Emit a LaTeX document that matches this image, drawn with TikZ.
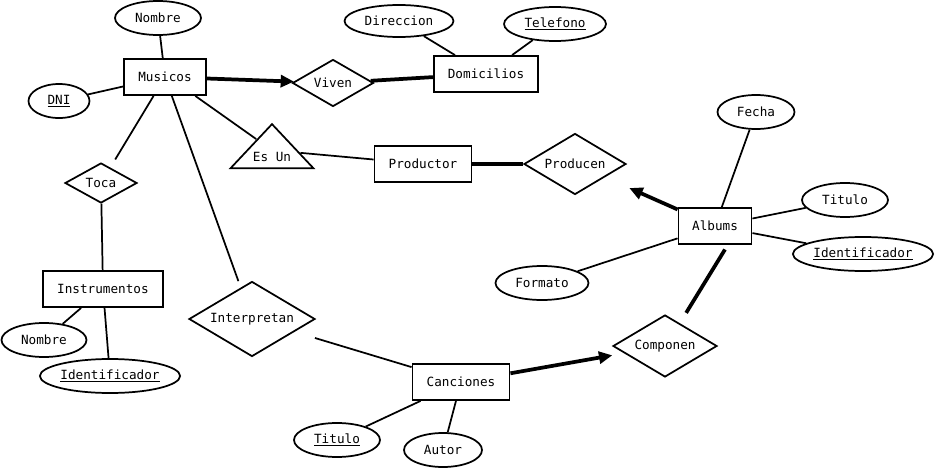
\documentclass[tikz,border=0pt]{standalone}
\usepackage{fontspec}
\setmonofont{DejaVu Sans Mono}
\usetikzlibrary{shapes.geometric,arrows.meta}

\begin{document}
\begin{tikzpicture}[x=0.75pt,y=-0.75pt,
  font=\ttfamily\fontsize{9.5}{11}\selectfont,
  entidad/.style={draw,line width=1.4pt,minimum height=27pt,inner sep=0pt},
  atrib/.style={draw,ellipse,line width=1.3pt,minimum height=25.5pt,inner sep=0pt},
  relac/.style={draw,diamond,aspect=1.7,line width=1.3pt,inner sep=0pt},
  linea/.style={line width=1.3pt},
  gruesa/.style={line width=2.8pt},
  flecha/.style={line width=2.8pt,-{Triangle[length=10pt,width=9pt]}}]
\useasboundingbox (0,0) rectangle (936,471);

% ---- entidades ----
\node[entidad,minimum width=61.5pt] (musicos) at (165,77) {Musicos};
\node[entidad,minimum width=78pt] (domicilios) at (486,74) {Domicilios};
\node[entidad,minimum width=72.75pt] (productor) at (423,164) {Productor};
\node[entidad,minimum width=54.75pt] (albums) at (715,226) {Albums};
\node[entidad,minimum width=90pt] (instrumentos) at (103,289) {Instrumentos};
\node[entidad,minimum width=72.75pt] (canciones) at (461,382) {Canciones};

% ---- relaciones ----
\node[relac,minimum width=54pt,minimum height=30pt] (toca) at (101,183) {Toca};
\node[relac,minimum width=60.75pt,minimum height=35.25pt] (viven) at (333,83) {Viven};
\node[relac,minimum width=76.5pt,minimum height=45.75pt] (producen) at (575,164) {Producen};
\node[relac,minimum width=94.5pt,minimum height=56.25pt] (interpretan) at (252,319) {Interpretan};
\node[relac,minimum width=78pt,minimum height=46.5pt] (componen) at (665,346) {Componen};
\node[draw,isosceles triangle,isosceles triangle stretches,shape border rotate=90,
      minimum width=62pt,minimum height=33pt,inner sep=0pt,line width=1.3pt,
      anchor=lower side] (esun) at (272,169) {};
\node (esuntxt) at (272,157) {Es Un};

% ---- atributos ----
\node[atrib,minimum width=64.5pt] (nombre) at (158,18) {Nombre};
\node[atrib,minimum width=45.75pt] (dni) at (59,101) {\underline{DNI}};
\node[atrib,minimum width=81.75pt,minimum height=24pt] (direccion) at (399,21) {Direccion};
\node[atrib,minimum width=76.5pt] (telefono) at (555,24) {\underline{Telefono}};
\node[atrib,minimum width=57.75pt] (fecha) at (756,112) {Fecha};
\node[atrib,minimum width=64.5pt] (tituloalb) at (845,200) {Titulo};
\node[atrib,minimum width=105pt] (identalb) at (863,254) {\underline{Identificador}};
\node[atrib,minimum width=69.75pt] (formato) at (542,283) {Formato};
\node[atrib,minimum width=63.75pt] (nombreins) at (44,340) {Nombre};
\node[atrib,minimum width=105pt] (identins) at (110,376) {\underline{Identificador}};
\node[atrib,minimum width=64.5pt] (titulocan) at (337,440) {\underline{Titulo}};
\node[atrib,minimum width=58.5pt] (autor) at (443,450) {Autor};

% ---- conexiones ----
\draw[linea] (nombre)--(musicos); \draw[linea] (dni)--(musicos);
\draw[flecha] (musicos)--(viven);
\draw[gruesa] (viven)--(domicilios);
\draw[linea] (direccion)--(domicilios); \draw[linea] (telefono)--(domicilios);
\draw[linea,shorten >=7pt] (musicos)--(toca);
\draw[linea] (toca)--(instrumentos);
\draw[linea] (musicos.-32)--(esun);
\draw[linea] (esun)--(productor);
\draw[gruesa] (productor)--(producen);
\draw[flecha,shorten >=20pt] (albums)--(producen);
\draw[linea,shorten >=5pt] (musicos)--(interpretan);
\draw[linea,shorten <=16pt] (interpretan)--(canciones);
\draw[flecha,shorten >=9pt] (canciones)--(componen);
\draw[gruesa,shorten <=4pt,shorten >=9pt] (albums.-56)--(componen.57);
\draw[linea] (fecha)--(albums); \draw[linea] (tituloalb)--(albums);
\draw[linea] (identalb)--(albums); \draw[linea] (formato)--(albums);
\draw[linea] (instrumentos)--(nombreins); \draw[linea] (instrumentos)--(identins);
\draw[linea] (canciones)--(titulocan); \draw[linea] (canciones)--(autor);
\end{tikzpicture}
\end{document}
